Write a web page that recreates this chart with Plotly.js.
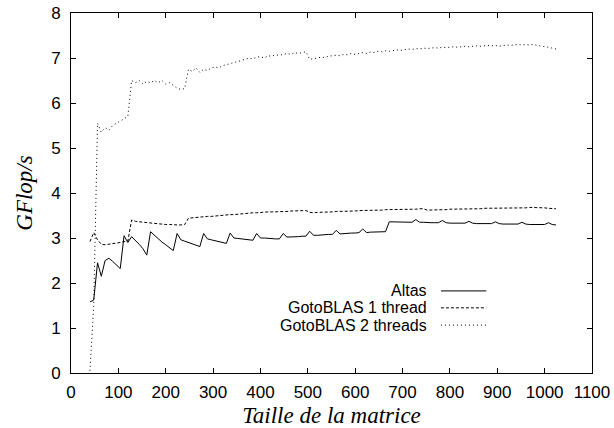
<!DOCTYPE html>
<html>
<head>
<meta charset="utf-8">
<script src="https://cdn.plot.ly/plotly-3.0.1.min.js"></script>
<style>html,body{margin:0;padding:0;background:#fff}#chart{width:614px;height:428px}</style>
</head>
<body>
<div id="chart"></div>
<script>
// Matrix sizes
const sizes = [40,48,56,64,72,80,88,96,104,112,120,128,136,144,152,160,168,176,184,192,200,208,216,224,232,240,248,256,264,272,280,288,296,304,312,320,328,336,344,352,360,368,376,384,392,400,408,416,424,432,440,448,456,464,472,480,488,496,504,512,520,528,536,544,552,560,568,576,584,592,600,608,616,624,632,640,648,656,664,672,680,688,696,704,712,720,728,736,744,752,760,768,776,784,792,800,808,816,824,832,840,848,856,864,872,880,888,896,904,912,920,928,936,944,952,960,968,976,984,992,1000,1008,1016,1024];

const atlas = [1.58,1.62,2.45,2.15,2.5,2.55,2.48,2.4,2.32,3.05,2.9,3.03,2.95,2.86,2.76,2.62,3.14,3.06,2.98,2.91,2.85,2.79,2.72,3.1,2.96,2.93,2.9,2.87,2.84,2.81,3.1,2.98,2.96,2.94,2.92,2.9,2.88,3.11,3.0,2.99,2.98,2.97,2.96,2.95,3.1,3.0,3.0,2.99,2.99,2.98,2.98,3.1,3.02,3.02,3.03,3.03,3.04,3.04,3.15,3.06,3.06,3.07,3.07,3.08,3.08,3.17,3.09,3.1,3.1,3.11,3.11,3.12,3.2,3.12,3.13,3.13,3.14,3.14,3.14,3.36,3.36,3.36,3.35,3.35,3.35,3.35,3.41,3.35,3.35,3.34,3.34,3.34,3.34,3.39,3.34,3.33,3.33,3.33,3.33,3.33,3.37,3.33,3.32,3.32,3.32,3.32,3.32,3.36,3.32,3.31,3.31,3.31,3.31,3.31,3.35,3.31,3.3,3.3,3.3,3.3,3.3,3.34,3.3,3.29];

const goto1 = [2.92,3.12,2.96,2.86,2.85,2.86,2.87,2.89,2.9,2.92,2.93,3.4,3.37,3.36,3.35,3.34,3.33,3.32,3.31,3.31,3.3,3.3,3.29,3.29,3.29,3.3,3.44,3.45,3.46,3.46,3.47,3.48,3.48,3.49,3.5,3.5,3.51,3.52,3.52,3.53,3.54,3.55,3.55,3.56,3.56,3.57,3.57,3.58,3.58,3.58,3.59,3.59,3.59,3.6,3.6,3.6,3.61,3.61,3.57,3.56,3.57,3.57,3.58,3.58,3.58,3.59,3.59,3.59,3.6,3.6,3.6,3.61,3.61,3.61,3.62,3.62,3.62,3.62,3.63,3.63,3.63,3.63,3.64,3.64,3.64,3.64,3.64,3.65,3.65,3.62,3.62,3.63,3.63,3.63,3.63,3.64,3.64,3.64,3.64,3.65,3.65,3.65,3.65,3.65,3.66,3.66,3.66,3.66,3.66,3.66,3.67,3.67,3.67,3.67,3.67,3.67,3.68,3.68,3.68,3.67,3.67,3.66,3.65,3.65];

const goto2 = [0.05,1.5,5.55,5.35,5.45,5.4,5.5,5.55,5.6,5.65,5.7,6.5,6.45,6.5,6.42,6.48,6.45,6.5,6.45,6.5,6.42,6.45,6.38,6.33,6.3,6.32,6.75,6.7,6.78,6.68,6.75,6.72,6.78,6.8,6.78,6.83,6.85,6.88,6.9,6.92,6.95,6.97,7.0,6.98,7.02,7.03,7.0,7.05,7.04,7.07,7.06,7.08,7.1,7.08,7.12,7.1,7.12,7.14,6.97,6.98,7.0,7.02,7.01,7.04,7.05,7.06,7.05,7.08,7.07,7.1,7.08,7.1,7.12,7.1,7.13,7.12,7.15,7.14,7.16,7.15,7.17,7.18,7.17,7.19,7.2,7.19,7.21,7.2,7.22,7.21,7.22,7.23,7.22,7.24,7.23,7.24,7.25,7.24,7.25,7.26,7.25,7.26,7.27,7.26,7.27,7.28,7.27,7.28,7.26,7.28,7.29,7.28,7.29,7.3,7.29,7.3,7.29,7.3,7.28,7.27,7.26,7.24,7.22,7.2];

const seriesNames = ["Altas", "GotoBLAS 1 thread", "GotoBLAS 2 threads"];
const seriesDash = ["solid", "3px,2px", "1px,3px"];
const seriesData = [atlas, goto1, goto2];

const xTitle = "Taille de la matrice";
const yTitle = "GFlop/s";

const traces = seriesData.map((y, i) => ({
  x: sizes, y: y, type: "scatter", mode: "lines", name: seriesNames[i],
  line: {color: "#000", width: 1, dash: seriesDash[i]}, showlegend: false
}));

// Gnuplot-style legend: right-aligned text, sample line to the right
const legRowY = [0.228, 0.181, 0.133];
const annotations = seriesNames.map((n, i) => ({
  xref: "paper", yref: "paper", x: 0.686, y: legRowY[i], xanchor: "right", yanchor: "middle",
  text: n, showarrow: false, height: 15, borderpad: 0,
  font: {family: "Liberation Sans, Arial, sans-serif", size: 16, color: "#000"}
}));
const shapes = seriesNames.map((n, i) => ({
  type: "line", xref: "paper", yref: "paper", x0: 0.710, x1: 0.797, y0: legRowY[i], y1: legRowY[i],
  line: {color: "#000", width: 1, dash: seriesDash[i]}
}));

const axisCommon = {
  showgrid: false, zeroline: false, showline: true, linecolor: "#000", linewidth: 1,
  mirror: "ticks", ticks: "inside", ticklen: 5, tickcolor: "#000", tickwidth: 1,
  tickfont: {family: "Liberation Sans, Arial, sans-serif", size: 17, color: "#000"}
};

const layout = {
  width: 614, height: 428,
  margin: {l: 71, r: 22, t: 13, b: 55, pad: 0},
  paper_bgcolor: "#fff", plot_bgcolor: "#fff",
  showlegend: false,
  xaxis: Object.assign({}, axisCommon, {
    range: [0, 1100], dtick: 100, tick0: 0, ticklabelstandoff: 4,
    title: {text: xTitle, standoff: 8, font: {family: "Liberation Serif, Times New Roman, serif", size: 23, color: "#000", style: "italic"}}
  }),
  yaxis: Object.assign({}, axisCommon, {
    range: [0, 8], dtick: 1, tick0: 0, ticklabelstandoff: 6,
    title: {text: yTitle, standoff: 12, font: {family: "Liberation Serif, Times New Roman, serif", size: 23, color: "#000", style: "italic"}}
  }),
  annotations: annotations,
  shapes: shapes
};

Plotly.newPlot("chart", traces, layout, {staticPlot: true, displayModeBar: false});
</script>
</body>
</html>
